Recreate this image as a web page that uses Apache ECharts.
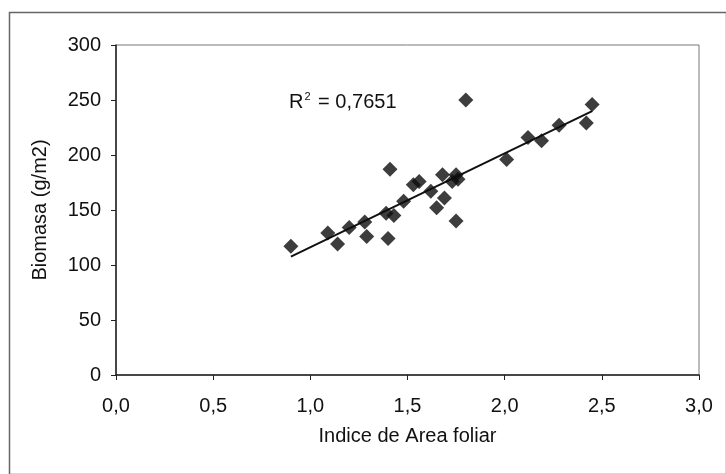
<!DOCTYPE html>
<html>
<head>
  <meta charset="utf-8">
  <title>Biomasa vs Indice de Area foliar</title>
  <script src="https://cdn.jsdelivr.net/npm/echarts@6/dist/echarts.min.js"></script>
  <style>
    html, body { margin: 0; padding: 0; background: #fff; }
    #main { width: 726px; height: 474px; }
  </style>
</head>
<body>
  <div id="main"></div>
  <script>
  // datos
  var iaf = [0.90, 1.09, 1.14, 1.20, 1.28, 1.29, 1.39, 1.40, 1.41, 1.43, 1.48, 1.53, 1.56, 1.62,
             1.65, 1.68, 1.69, 1.73, 1.75, 1.76, 1.75, 1.80, 2.01, 2.12, 2.19, 2.28, 2.42, 2.45];
  var biomasa = [117, 129, 119, 134, 139, 126, 147, 124, 187, 145, 158, 173, 176, 167,
                 152, 182, 161, 176, 182, 178, 140, 250, 196, 216, 213, 227, 229, 246];
  var xTicks = ['0,0', '0,5', '1,0', '1,5', '2,0', '2,5', '3,0'];
  var yTicks = ['0', '50', '100', '150', '200', '250', '300'];
  var r2Text = '0,7651';

  var puntos = iaf.map(function (x, i) { return [x, biomasa[i]]; });

  // recta de regresion (minimos cuadrados) sobre los mismos datos
  var n = iaf.length, sx = 0, sy = 0, sxx = 0, sxy = 0;
  for (var i = 0; i < n; i++) {
    sx += iaf[i]; sy += biomasa[i];
    sxx += iaf[i] * iaf[i]; sxy += iaf[i] * biomasa[i];
  }
  var b = (n * sxy - sx * sy) / (n * sxx - sx * sx);
  var a = (sy - b * sx) / n;
  var xMin = Math.min.apply(null, iaf), xMax = Math.max.apply(null, iaf);
  var tendencia = [[xMin, a + b * xMin], [xMax, a + b * xMax]];

  var fuente = "'Liberation Sans', Arial, sans-serif";
  var tinta = '#111';
  var myChart = echarts.init(document.getElementById('main'));
  myChart.setOption({
    backgroundColor: '#fff',
    animation: false,
    grid: {
      left: 116, right: 27, top: 45, bottom: 99,
      show: true, borderColor: '#777', borderWidth: 1
    },
    graphic: [
      {
        type: 'rect', left: 7, top: 10,
        shape: { width: 717, height: 462 },
        style: { fill: 'none', stroke: '#666', lineWidth: 1.5 }
      },
      {
        type: 'text', left: 289, top: 91,
        style: {
          text: '{r|R}{s|2}{r| = ' + r2Text + '}',
          rich: {
            r: { fontSize: 20, fontFamily: fuente, fill: tinta, verticalAlign: 'bottom' },
            s: { fontSize: 11, fontFamily: fuente, fill: tinta, verticalAlign: 'top', padding: [0, 2, 10, 1] }
          }
        }
      }
    ],
    xAxis: {
      type: 'value', min: 0, max: 3, interval: 0.5,
      name: 'Indice de Area foliar', nameLocation: 'middle', nameGap: 51,
      nameTextStyle: { fontSize: 20, fontFamily: fuente, color: tinta },
      axisLine: { show: true, lineStyle: { color: '#222', width: 1.5 } },
      axisTick: { show: true, inside: false, length: 5, lineStyle: { color: '#222' } },
      splitLine: { show: false },
      axisLabel: {
        margin: 21, fontSize: 20, fontFamily: fuente, color: tinta,
        formatter: function (v) { return xTicks[Math.round(v / 0.5)]; }
      }
    },
    yAxis: {
      type: 'value', min: 0, max: 300, interval: 50,
      name: 'Biomasa (g/m2)', nameLocation: 'middle', nameGap: 66,
      nameTextStyle: { fontSize: 20, fontFamily: fuente, color: tinta },
      axisLine: { show: true, lineStyle: { color: '#222', width: 1.5 } },
      axisTick: { show: true, inside: false, length: 5, lineStyle: { color: '#222' } },
      splitLine: { show: false },
      axisLabel: {
        margin: 15, fontSize: 20, fontFamily: fuente, color: tinta,
        formatter: function (v) { return yTicks[Math.round(v / 50)]; }
      }
    },
    series: [
      {
        type: 'line', data: tendencia, showSymbol: false, symbol: 'none',
        lineStyle: { color: '#111', width: 2 }, z: 2
      },
      {
        type: 'scatter', data: puntos, symbol: 'diamond', symbolSize: 15,
        itemStyle: { color: '#0d0d0d' }, z: 3
      }
    ]
  });
  </script>
</body>
</html>
